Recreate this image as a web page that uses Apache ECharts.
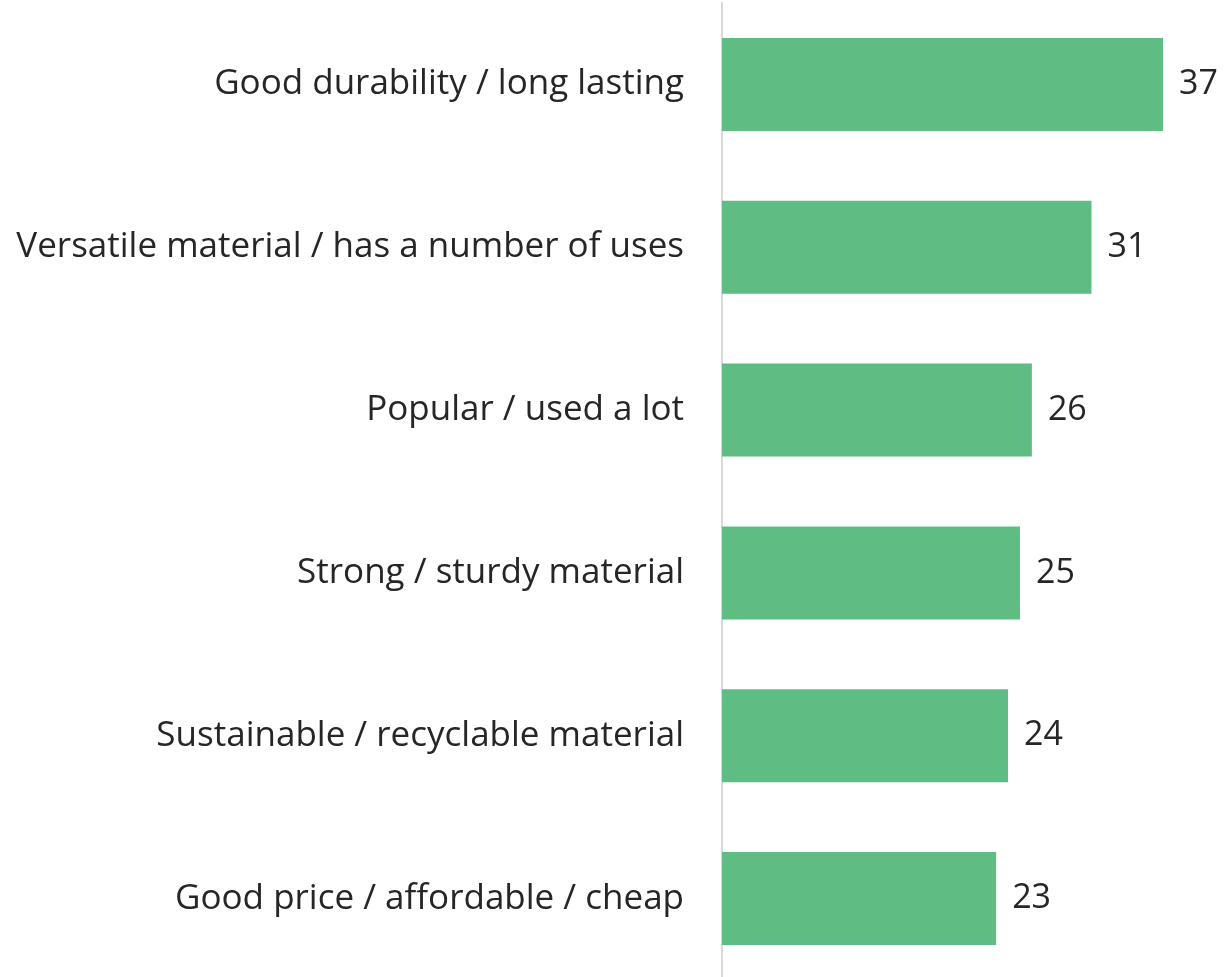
<!DOCTYPE html>
<html>
<head>
<meta charset="utf-8">
<script src="https://cdn.jsdelivr.net/npm/echarts@6/dist/echarts.min.js"></script>
<style>
  html, body { margin: 0; padding: 0; background: #fff; }
  #chart { width: 1224px; height: 977px; }
</style>
</head>
<body>
<div id="chart"></div>
<script>
var categories = [
  'Good durability / long lasting',
  'Versatile material / has a number of uses',
  'Popular / used a lot',
  'Strong / sturdy material',
  'Sustainable / recyclable material',
  'Good price / affordable / cheap'
];
var values = [37, 31, 26, 25, 24, 23];

var chart = echarts.init(document.getElementById('chart'));

var option = {
  animation: false,
  textStyle: { fontFamily: 'Open Sans' },
  grid: { left: 722, right: 61, top: 3, height: 977, outerBoundsMode: 'none' },
  xAxis: {
    type: 'value',
    min: 0,
    max: 37,
    show: false
  },
  yAxis: {
    type: 'category',
    inverse: true,
    data: categories,
    axisLine: { show: true, lineStyle: { color: '#d9d9d9', width: 2 } },
    axisTick: { show: false },
    axisLabel: {
      margin: 38,
      fontSize: 35,
      color: '#262626',
      fontFamily: 'Open Sans'
    }
  },
  series: [{
    type: 'bar',
    data: values,
    barWidth: 93,
    itemStyle: { color: '#5FBD83' },
    label: {
      show: true,
      position: 'right',
      distance: 16,
      fontSize: 34,
      color: '#262626',
      fontFamily: 'Open Sans'
    }
  }]
};

chart.setOption(option);
</script>
</body>
</html>
